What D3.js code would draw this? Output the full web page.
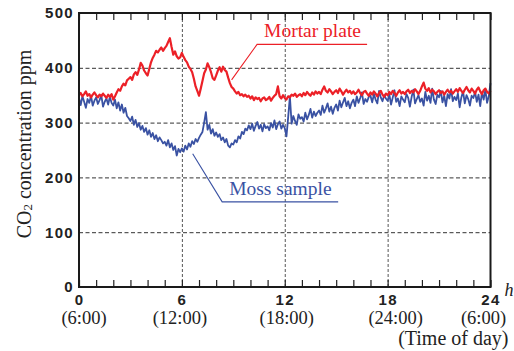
<!DOCTYPE html>
<html>
<head>
<meta charset="utf-8">
<script src="https://cdn.jsdelivr.net/npm/d3@7"></script>
<style>
  body { margin: 0; background: #fff; }
  svg { display: block; }
</style>
</head>
<body>
<svg id="chart" width="514" height="351"></svg>
<script>
// sampled every 0.1 h from 0 h to 24 h
const sampleStep = 0.1;

// Mortar plate, ppm
const mortarPlate = [
  350,354,348,352,357,349,352,346,351,355,
  350,346,351,348,353,349,345,351,347,352,
  342,348,355,361,358,366,371,368,377,380,
  383,378,388,392,387,397,409,404,395,390,
  386,398,410,418,424,431,428,433,437,431,
  436,440,447,454,438,424,430,421,417,419,
  427,420,414,410,402,398,392,380,366,358,
  349,362,376,390,397,408,401,392,381,378,
  386,395,401,393,402,396,393,382,372,365,
  362,357,353,356,350,352,348,351,347,349,
  344,348,341,346,343,345,339,344,346,341,
  343,347,340,345,349,352,366,348,344,350,
  345,342,348,346,351,349,353,347,350,352,
  348,354,350,356,352,349,355,351,357,353,
  356,352,360,366,358,355,361,357,352,356,
  359,354,362,357,351,356,360,355,358,353,
  357,352,355,360,354,350,356,358,353,349,
  355,351,357,353,348,354,358,351,347,353,
  350,356,352,358,354,349,355,359,353,356,
  352,357,360,354,358,355,361,357,352,358,
  366,373,362,358,363,355,360,357,352,356,
  359,354,357,351,356,360,355,358,353,357,
  361,356,363,358,354,360,365,359,355,362,
  358,353,360,364,357,352,359,362,356,353,
  358
];

// Moss sample, ppm
const mossSample = [
  345,332,348,338,327,343,336,349,331,340,
  346,334,341,350,329,338,344,333,347,336,
  331,342,326,337,322,333,318,327,312,308,
  303,311,296,305,292,299,287,294,283,290,
  278,286,274,281,270,277,266,273,268,262,
  265,258,268,255,262,250,257,240,252,246,
  253,247,258,251,262,256,266,261,270,265,
  272,278,283,300,319,287,296,280,288,276,
  282,274,279,268,273,264,270,258,255,262,
  260,268,264,275,271,283,279,289,286,295,
  288,298,285,294,301,289,296,284,297,290,
  293,286,299,291,304,288,297,302,289,296,
  290,275,310,348,298,312,303,296,315,307,
  310,302,318,306,314,325,309,320,312,318,
  322,314,331,318,326,335,320,329,316,327,
  333,322,340,328,337,345,330,339,326,336,
  342,330,348,336,345,355,334,343,338,347,
  349,337,352,342,335,358,346,339,350,344,
  340,351,333,346,359,338,344,330,348,342,
  337,352,345,329,347,360,335,343,350,338,
  344,331,356,340,349,336,362,342,334,351,
  346,358,337,349,330,352,344,361,339,347,
  341,353,328,346,357,335,350,343,331,349,
  345,356,338,351,330,355,342,360,336,348,
  372
];

const xTicks = [0, 6, 12, 18, 24];
const clockLabels = ['(6:00)', '(12:00)', '(18:00)', '(24:00)', '(6:00)'];
const yTicks = [0, 100, 200, 300, 400, 500];
const gridY = [100, 200, 300, 400];
const gridX = [6, 12, 18];
const hourTicks = d3.range(0, 25);

// annotation anchors in data units (hour, ppm)
const mortarAnchor = [8.9, 378];
const mossAnchor = [6.63, 243];

const margin = { top: 13, right: 23.5, bottom: 64, left: 79 };
const width = 514 - margin.left - margin.right;
const height = 351 - margin.top - margin.bottom;

const red = '#ec2027';
const blue = '#3a52a3';

const svg = d3.select('#chart');
const g = svg.append('g')
  .attr('transform', `translate(${margin.left},${margin.top})`);

const x = d3.scaleLinear().domain([0, 24]).range([0, width]);
const y = d3.scaleLinear().domain([0, 500]).range([height, 0]);

// grid
g.append('g')
  .attr('class', 'grid-y')
  .call(d3.axisLeft(y).tickValues(gridY).tickSize(-width).tickFormat(''))
  .call((s) => s.select('.domain').remove())
  .selectAll('line')
  .attr('stroke', '#333')
  .attr('stroke-dasharray', '4,2.5');

g.append('g')
  .attr('class', 'grid-x')
  .attr('transform', `translate(0,${height})`)
  .call(d3.axisBottom(x).tickValues(gridX).tickSize(-height).tickFormat(''))
  .call((s) => s.select('.domain').remove())
  .selectAll('line')
  .attr('stroke', '#555')
  .attr('stroke-dasharray', '3,2');

// hour ticks, inward on top and bottom
g.append('g')
  .attr('transform', `translate(0,${height})`)
  .call(d3.axisBottom(x).tickValues(hourTicks).tickSize(-7).tickFormat(''))
  .call((s) => s.select('.domain').remove())
  .selectAll('line')
  .attr('stroke', '#222')
  .attr('stroke-width', 1.2);

g.append('g')
  .call(d3.axisTop(x).tickValues(hourTicks).tickSize(-7).tickFormat(''))
  .call((s) => s.select('.domain').remove())
  .selectAll('line')
  .attr('stroke', '#222')
  .attr('stroke-width', 1.2);

// data lines
const line = d3.line()
  .x((d, i) => x(i * sampleStep))
  .y((d) => y(d));

g.append('path')
  .datum(mossSample)
  .attr('fill', 'none')
  .attr('stroke', blue)
  .attr('stroke-width', 1.8)
  .attr('stroke-linejoin', 'round')
  .attr('d', line);

g.append('path')
  .datum(mortarPlate)
  .attr('fill', 'none')
  .attr('stroke', red)
  .attr('stroke-width', 2.2)
  .attr('stroke-linejoin', 'round')
  .attr('d', line);

// frame
g.append('rect')
  .attr('x', 0)
  .attr('y', 0)
  .attr('width', width)
  .attr('height', height)
  .attr('fill', 'none')
  .attr('stroke', '#1a1a1a')
  .attr('stroke-width', 2);

// axis labels
const yAxis = g.append('g')
  .call(d3.axisLeft(y).tickValues(yTicks).tickSize(0).tickPadding(5));
yAxis.select('.domain').remove();
yAxis.selectAll('text')
  .style('font-family', '"Liberation Sans", Arial, sans-serif')
  .style('font-weight', 'bold')
  .style('font-size', '15px')
  .style('letter-spacing', '1.3px')
  .attr('fill', '#222');

const xAxis = g.append('g')
  .attr('transform', `translate(0,${height})`)
  .call(d3.axisBottom(x).tickValues(xTicks).tickSize(0).tickPadding(7.5));
xAxis.select('.domain').remove();
xAxis.selectAll('text')
  .style('font-family', '"Liberation Sans", Arial, sans-serif')
  .style('font-weight', 'bold')
  .style('font-size', '15px')
  .style('letter-spacing', '1.3px')
  .attr('fill', '#222');

const clockNudge = [5, -2, 2, 8, -7];
g.selectAll('.clock')
  .data(xTicks)
  .enter()
  .append('text')
  .attr('class', 'clock')
  .attr('x', (d, i) => x(d) + clockNudge[i])
  .attr('y', height + 37)
  .attr('text-anchor', 'middle')
  .style('font-family', '"Liberation Serif", "Times New Roman", serif')
  .style('font-size', '18.5px')
  .attr('fill', '#222')
  .text((d, i) => clockLabels[i]);

g.append('text')
  .attr('x', width + 18)
  .attr('y', height + 58)
  .attr('text-anchor', 'end')
  .style('font-family', '"Liberation Serif", "Times New Roman", serif')
  .style('font-size', '20px')
  .attr('fill', '#222')
  .text('(Time of day)');

g.append('text')
  .attr('x', width + 14)
  .attr('y', height + 9)
  .style('font-family', '"Liberation Serif", "Times New Roman", serif')
  .style('font-style', 'italic')
  .style('font-size', '18px')
  .attr('fill', '#222')
  .text('h');

const yLabel = svg.append('text')
  .attr('transform', 'translate(31,144) rotate(-90)')
  .attr('text-anchor', 'middle')
  .style('font-family', '"Liberation Serif", "Times New Roman", serif')
  .style('font-size', '20px')
  .attr('fill', '#222');
yLabel.append('tspan').text('CO');
yLabel.append('tspan').attr('font-size', '13px').attr('dy', 1).text('2');
yLabel.append('tspan').attr('dy', -1).text(' concentration ppm');

// annotations
function annotate(anchor, dx, dy, len, label, color) {
  const ax = x(anchor[0]);
  const ay = y(anchor[1]);
  const bx = ax + dx;
  const by = ay + dy;
  g.append('path')
    .attr('d', `M${ax},${ay}L${bx},${by}L${bx + len},${by}`)
    .attr('fill', 'none')
    .attr('stroke', color)
    .attr('stroke-width', 1.1);
  g.append('text')
    .attr('x', bx + 7)
    .attr('y', by - 7)
    .style('font-family', '"Liberation Serif", "Times New Roman", serif')
    .style('font-size', '19.5px')
    .attr('fill', color)
    .text(label);
}

annotate(mortarAnchor, 25.5, -35.5, 110, 'Mortar plate', red);
annotate(mossAnchor, 29.5, 48, 116, 'Moss sample', blue);
</script>
</body>
</html>
